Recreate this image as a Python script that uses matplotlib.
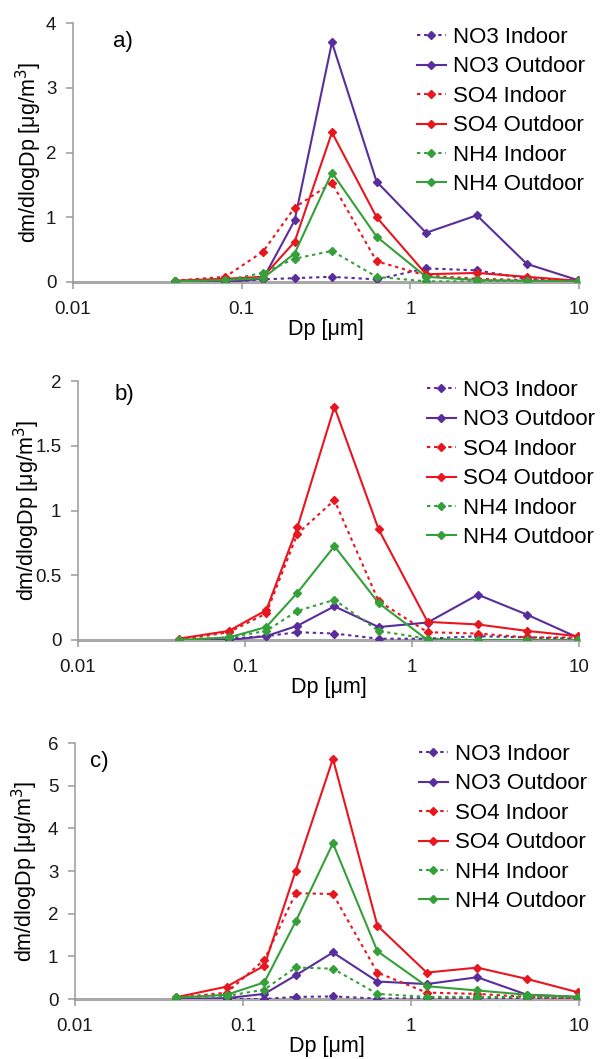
import matplotlib.pyplot as plt
from matplotlib.ticker import FixedLocator, NullLocator

plt.rcParams['font.family'] = ['Liberation Sans', 'DejaVu Sans']

# stage mid diameters [um]
dp = [0.04, 0.08, 0.134, 0.206, 0.343, 0.631, 1.24, 2.48, 4.9, 9.8]

labels = ['NO3 Indoor', 'NO3 Outdoor', 'SO4 Indoor', 'SO4 Outdoor',
          'NH4 Indoor', 'NH4 Outdoor']

# a)
a_no3_in = [0.01, 0.0, 0.04, 0.06, 0.08, 0.04, 0.21, 0.18, 0.05, 0.02]
a_no3_out = [0.01, 0.0, 0.05, 0.95, 3.70, 1.55, 0.76, 1.03, 0.28, 0.03]
a_so4_in = [0.02, 0.08, 0.47, 1.15, 1.53, 0.32, 0.10, 0.05, 0.03, 0.01]
a_so4_out = [0.02, 0.05, 0.08, 0.62, 2.31, 1.00, 0.12, 0.14, 0.08, 0.02]
a_nh4_in = [0.01, 0.03, 0.14, 0.36, 0.48, 0.08, 0.01, 0.01, 0.01, 0.0]
a_nh4_out = [0.01, 0.03, 0.06, 0.44, 1.69, 0.70, 0.08, 0.03, 0.02, 0.01]

# b)
b_no3_in = [0.0, 0.01, 0.03, 0.06, 0.05, 0.01, 0.01, 0.03, 0.02, 0.01]
b_no3_out = [0.0, 0.0, 0.03, 0.11, 0.26, 0.10, 0.135, 0.35, 0.195, 0.02]
b_so4_in = [0.0, 0.06, 0.205, 0.82, 1.08, 0.30, 0.06, 0.05, 0.02, 0.02]
b_so4_out = [0.01, 0.07, 0.23, 0.87, 1.80, 0.855, 0.14, 0.12, 0.07, 0.03]
b_nh4_in = [0.0, 0.02, 0.07, 0.225, 0.31, 0.07, 0.01, 0.0, 0.0, 0.0]
b_nh4_out = [0.0, 0.02, 0.10, 0.365, 0.725, 0.285, 0.0, 0.0, 0.0, 0.0]

# c)
c_no3_in = [0.0, 0.0, 0.0, 0.05, 0.06, 0.01, 0.02, 0.03, 0.02, 0.01]
c_no3_out = [0.0, 0.02, 0.12, 0.555, 1.09, 0.41, 0.35, 0.51, 0.10, 0.05]
c_so4_in = [0.03, 0.15, 0.92, 2.48, 2.46, 0.62, 0.15, 0.12, 0.05, 0.01]
c_so4_out = [0.04, 0.29, 0.78, 3.01, 5.63, 1.72, 0.62, 0.735, 0.47, 0.16]
c_nh4_in = [0.04, 0.07, 0.22, 0.74, 0.71, 0.12, 0.05, 0.05, 0.05, 0.04]
c_nh4_out = [0.03, 0.10, 0.39, 1.82, 3.65, 1.12, 0.30, 0.20, 0.10, 0.05]

panels = [
    ('a)', [a_no3_in, a_no3_out, a_so4_in, a_so4_out, a_nh4_in, a_nh4_out],
     4, [0, 1, 2, 3, 4]),
    ('b)', [b_no3_in, b_no3_out, b_so4_in, b_so4_out, b_nh4_in, b_nh4_out],
     2, [0, 0.5, 1, 1.5, 2]),
    ('c)', [c_no3_in, c_no3_out, c_so4_in, c_so4_out, c_nh4_in, c_nh4_out],
     6, [0, 1, 2, 3, 4, 5, 6]),
]

colors = ['#5a2d9c', '#5a2d9c', '#e8161e', '#e8161e', '#35a03a', '#35a03a']
styles = [(0, (1.6, 1.8)), '-', (0, (1.6, 1.8)), '-', (0, (1.6, 1.8)), '-']

W, H = 601, 1059
fig = plt.figure(figsize=(W / 100, H / 100), dpi=100)

# plot areas in pixels: left, right, top, bottom
boxes = [(73, 579, 23, 282), (78, 579, 381, 640), (75, 579, 743, 999)]
tag_pos = [(0.08, 0.93), (0.072, 0.946), (0.03, 0.926)]
ylab_x = [-0.087, -0.102, -0.099]
leg_anchor = [(417, 27), (427, 380), (419, 744)]

for i, (tag, series, ymax, yt) in enumerate(panels):
    l, r, t, b = boxes[i]
    ax = fig.add_axes([l / W, 1 - b / H, (r - l) / W, (b - t) / H])

    for vals, c, ls, lab in zip(series, colors, styles, labels):
        ax.plot(dp, vals, color=c, linestyle=ls, linewidth=1.5,
                marker='D', markersize=4, label=lab, zorder=3)

    ax.set_xscale('log')
    ax.set_xlim(0.01, 10)
    ax.set_ylim(0, ymax)
    ax.xaxis.set_major_locator(FixedLocator([0.01, 0.1, 1, 10]))
    ax.xaxis.set_minor_locator(NullLocator())
    ax.set_xticklabels(['0.01', '0.1', '1', '10'])
    ax.set_yticks(yt)
    ax.set_yticklabels(['%g' % v for v in yt])

    for s in ['top', 'right']:
        ax.spines[s].set_visible(False)
    ax.spines['left'].set_color('#9a9a9a')
    ax.spines['left'].set_linewidth(1.1)
    ax.spines['bottom'].set_color('#a8a8a8')
    ax.spines['bottom'].set_linewidth(2.2)
    ax.spines['bottom'].set_zorder(1)
    ax.tick_params(axis='both', colors='#9a9a9a', labelcolor='#1a1a1a',
                   labelsize=13.5, length=5, width=1.1)
    ax.tick_params(axis='x', pad=9)
    ax.tick_params(axis='y', pad=7)

    ax.set_xlabel('Dp [\u03bcm]', fontsize=15.5)
    ax.xaxis.label.set_va('center')
    ax.xaxis.set_label_coords(0.5, -0.185)
    ax.set_ylabel('dm/dlogDp [\u03bcg/m$^3$]', fontsize=15.5)
    ax.yaxis.label.set_va('center')
    ax.yaxis.set_label_coords(ylab_x[i], 0.5)

    ax.text(tag_pos[i][0], tag_pos[i][1], tag, transform=ax.transAxes,
            fontsize=16, ha='left', va='center')

    lx, ly = leg_anchor[i]
    ax.legend(loc='upper left', bbox_to_anchor=(lx / W, 1 - ly / H),
              bbox_transform=fig.transFigure, frameon=False, fontsize=16,
              borderpad=0, borderaxespad=0, handlelength=1.3,
              handletextpad=0.3, labelspacing=0.38)

fig.savefig('out.png', dpi=100)
